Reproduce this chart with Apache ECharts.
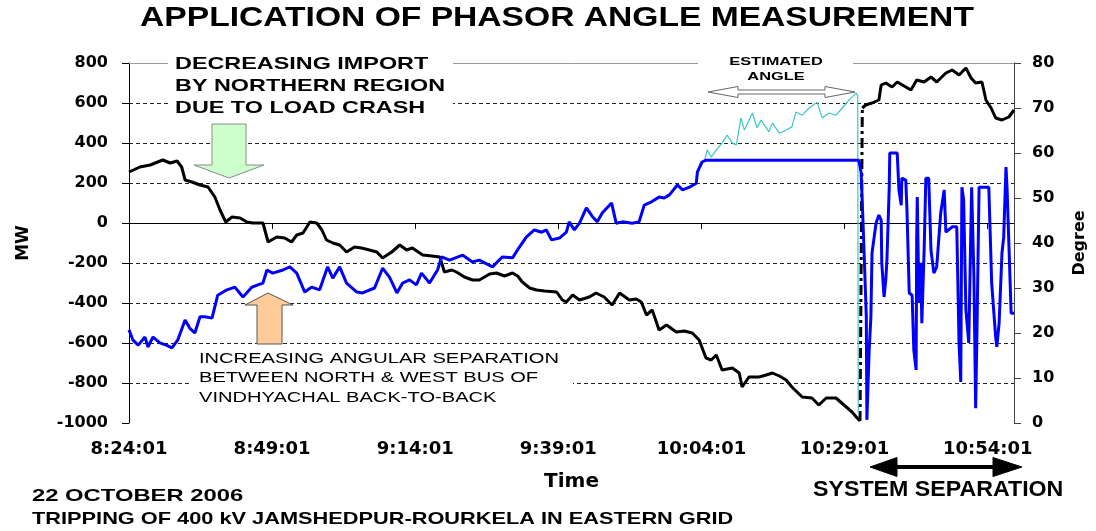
<!DOCTYPE html>
<html><head><meta charset="utf-8">
<script src="https://cdn.jsdelivr.net/npm/echarts@6/dist/echarts.min.js"></script>
<style>html,body{margin:0;padding:0;background:#fff}#c{width:1096px;height:531px}</style>
</head><body><div id="c"></div>
<script>
// x tick labels (clock time); data times are minutes after 8:24:01
const timeTicks = ['8:24:01','8:49:01','9:14:01','9:39:01','10:04:01','10:29:01','10:54:01'];

// Northern region import (MW) before system separation
const mwTime = [0.0,1.9,3.7,5.9,7.2,8.4,9.2,9.8,11.0,12.4,13.8,15.0,15.9,16.9,18.0,19.4,20.6,21.6,23.4,24.3,25.8,27.2,28.4,29.3,30.4,31.6,32.8,33.7,34.5,35.6,36.8,38.0,39.4,40.6,42.0,43.3,44.3,45.9,47.3,48.5,49.5,51.3,52.9,54.3,55.1,56.4,57.2,58.6,60.0,61.2,63.0,64.2,65.6,67.0,67.9,68.7,70.0,71.2,72.6,74.7,75.7,76.4,77.5,78.7,80.4,81.6,83.0,84.4,85.7,87.4,88.6,89.5,90.4,91.4,92.6,93.9,95.6,97.0,98.4,99.6,100.8,101.7,102.6,103.6,105.4,106.6,107.1,108.3,110.1,111.3,112.4,113.6,114.8,115.8,117.6,119.3,120.5,121.8,123.5,124.9,126.3,127.2,127.7];
const mwValue = [255,280,290,315,300,310,280,215,205,190,180,130,65,5,30,25,5,0,0,-95,-70,-75,-95,-60,-50,5,0,-35,-85,-100,-110,-145,-120,-125,-135,-145,-175,-145,-110,-135,-125,-160,-165,-170,-245,-235,-245,-270,-285,-285,-255,-250,-265,-250,-265,-295,-325,-335,-340,-345,-385,-395,-360,-385,-370,-350,-370,-410,-350,-385,-380,-395,-460,-435,-535,-510,-545,-540,-550,-585,-675,-685,-660,-735,-725,-750,-820,-770,-770,-760,-750,-765,-785,-820,-870,-875,-910,-875,-875,-910,-945,-975,-990];

// MW after system separation
const mwAfterTime = [128.1,128.7,129.8,131.0,131.4,132.2,133.3,134.2,135.7,136.6,137.6,138.9,140.1,141.1,142.7,143.8,145.0,146.2,147.1,147.9,149.0,149.7,150.6,151.4,152.5,153.7,154.6];
const mwAfterValue = [575,590,600,615,690,700,680,705,680,665,715,705,730,705,750,765,740,775,725,700,705,615,575,525,515,530,565];

// Angle between North & West bus of Vindhyachal (degree)
const angleTime = [0,0.7,1.6,2.8,3.3,4.2,5.4,6.5,7.5,8.5,9.8,10.6,11.5,12.4,13.3,14.5,15.5,17.1,18.5,19.9,21.5,22.5,23.4,24.1,25.1,26.9,28.1,29.3,30.7,31.9,33.3,34.7,35.6,36.8,38.0,39.8,40.8,42.9,44.3,45.5,46.8,47.8,49.0,50.2,51.1,52.5,53.9,54.6,56.0,58.3,60.0,61.2,63.5,65.2,67.0,68.2,69.4,70.8,72.1,72.9,73.8,75.2,76.4,76.9,77.8,78.7,79.9,81.0,81.8,82.7,84.3,85.1,86.2,87.9,89.1,90.0,91.2,92.6,93.5,94.4,95.8,96.7,97.9,99.1,99.3,100.1,100.8,127.5,127.9,128.1,128.4,128.8,128.9,129.3,129.6,129.8,130.5,131.0,131.4,131.5,131.9,132.2,132.4,132.8,132.9,134.2,134.5,134.9,135.0,135.7,135.9,136.3,136.8,137.1,137.5,137.6,137.7,138.0,138.3,138.5,138.9,139.2,139.7,140.1,140.6,141.1,141.8,142.4,142.7,143.8,144.6,145.0,145.3,145.5,145.8,146.2,146.7,147.2,147.6,147.9,148.1,148.5,150.2,150.7,151.4,151.6,152.0,152.5,152.8,153.2,153.4,153.7,154.1,154.6];
const angleValue = [20.7,18.4,17.3,19.1,16.9,19.1,17.8,17.3,16.7,18.4,22.9,21.1,20.0,23.6,23.6,23.3,28.4,29.6,30.2,28.0,30.2,30.7,31.1,34.0,33.3,34.0,34.7,33.3,29.1,30.2,29.6,34.7,32.2,34.7,31.1,29.1,28.9,30.0,34.4,32.4,28.9,31.1,31.8,30.7,33.3,31.1,34.0,36.9,36.2,37.3,35.8,36.2,34.7,36.9,36.7,39.1,41.3,42.9,42.4,42.9,40.7,41.1,42.4,44.7,42.9,44.4,47.8,45.8,44.7,46.7,48.9,44.4,44.7,44.4,44.7,48.4,49.1,50.2,50.0,50.7,52.9,51.8,52.4,53.3,55.8,58.0,58.4,58.4,55.6,48.9,38.4,23.6,0.7,16.2,23.6,37.8,44.4,46.2,45.1,35.6,28.0,31.8,36.2,52.2,60.0,60.0,51.8,48.4,54.4,54.0,47.3,28.9,28.4,16.2,11.8,40.7,50.2,26.7,35.6,22.2,38.4,54.4,54.4,38.4,33.3,34.7,46.7,51.8,42.4,43.6,43.6,17.8,9.1,52.4,49.6,25.1,17.8,52.4,32.4,3.3,17.8,52.4,52.4,31.1,19.1,16.9,22.2,37.8,41.3,56.9,51.8,40.0,24.4,24.4];

// Estimated angle (degree)
const estTime = [100.5,101.0,101.7,102.6,103.6,104.5,105.4,106.1,106.9,107.5,108.9,109.7,110.4,111.8,112.4,113.6,114.8,115.8,116.5,117.6,118.8,120.2,121.1,122.3,123.5,124.6,125.8,127.0,127.3,127.4];
const estValue = [58.0,60.7,59.1,60.7,62.2,64.0,62.2,61.8,67.8,65.1,68.9,65.6,67.3,64.7,66.7,64.4,65.1,65.8,69.1,68.4,70.0,71.3,67.8,68.9,68.4,70.0,71.8,73.3,72.7,2.0];

const zip = (a, b) => a.map((t, i) => [t, b[i]]);
const mwPre = zip(mwTime, mwValue);
const mwPost = zip(mwAfterTime, mwAfterValue);
const mwJump = [mwPre[mwPre.length - 1], mwPost[0]];

const AX = '"DejaVu Sans", Verdana, sans-serif';
const TX = '"Liberation Sans", Arial, sans-serif';

function txt(text, x, y, size, sx, weight, align) {
  return {
    type: 'text', x: x, y: y, scaleX: sx, z: 120, silent: true,
    style: {
      text: text, fill: '#000',
      font: (weight || 'bold') + ' ' + size + 'px ' + TX,
      textAlign: align || 'left', align: align || 'left',
      textVerticalAlign: 'middle', verticalAlign: 'middle'
    }
  };
}
function box(x, y, w, h) {
  return { type: 'rect', z: 110, silent: true, shape: { x: x, y: y, width: w, height: h }, style: { fill: '#fff' } };
}
function poly(points, fill, stroke) {
  return { type: 'polygon', z: 115, silent: true, shape: { points: points }, style: { fill: fill, stroke: stroke, lineWidth: 1 } };
}

const chart = echarts.init(document.getElementById('c'), null, { renderer: 'canvas' });
chart.setOption({
  animation: false,
  backgroundColor: '#fff',
  grid: { left: 129, right: 81, top: 63, bottom: 108, containLabel: false },
  xAxis: {
    type: 'value', min: 0, max: 154.6, interval: 25,
    axisLine: { lineStyle: { color: '#000', width: 1 } },
    axisTick: { show: true, length: 6, lineStyle: { color: '#000' } },
    axisLabel: {
      showMaxLabel: false, margin: 17,
      formatter: v => timeTicks[Math.round(v / 25)] || '',
      fontFamily: AX, fontWeight: 'bold', fontSize: 18, color: '#000'
    },
    splitLine: { show: false },
    name: 'Time', nameLocation: 'middle', nameGap: 49,
    nameTextStyle: { fontFamily: AX, fontWeight: 'bold', fontSize: 20, color: '#000' }
  },
  yAxis: [
    {
      type: 'value', min: -1000, max: 800, interval: 200, position: 'left',
      axisLine: { show: true, lineStyle: { color: '#000', width: 1 } },
      axisTick: { show: true, length: 7, lineStyle: { color: '#000' } },
      axisLabel: { margin: 21, formatter: v => String(v), fontFamily: AX, fontWeight: 'bold', fontSize: 16, color: '#000' },
      splitLine: { show: true, showMinLine: false, showMaxLine: false, lineStyle: { color: '#222', width: 1, type: [4, 3] } },
      name: 'MW', nameLocation: 'middle', nameRotate: 90, nameGap: 97,
      nameTextStyle: { fontFamily: AX, fontWeight: 'bold', fontSize: 17, color: '#000' }
    },
    {
      type: 'value', min: 0, max: 80, interval: 10, position: 'right',
      axisLine: { show: true, lineStyle: { color: '#444', width: 1 } },
      axisTick: { show: true, length: 7, lineStyle: { color: '#444' } },
      axisLabel: { margin: 18, formatter: v => String(v), fontFamily: AX, fontWeight: 'bold', fontSize: 16, color: '#000' },
      splitLine: { show: false },
      name: 'Degree', nameLocation: 'middle', nameRotate: 90, nameGap: 58,
      nameTextStyle: { fontFamily: AX, fontWeight: 'bold', fontSize: 16, color: '#000' }
    }
  ],
  series: [
    {
      name: 'MW', type: 'line', yAxisIndex: 0, data: mwPre, showSymbol: false, z: 3,
      lineStyle: { color: '#000', width: 3 }, itemStyle: { color: '#000' },
      markLine: {
        silent: true, symbol: 'none', label: { show: false }, animation: false,
        lineStyle: { color: '#9a9a9a', type: 'solid', width: 1 },
        data: [{ yAxis: 800 }]
      }
    },
    {
      name: 'MW jump', type: 'line', yAxisIndex: 0, data: mwJump, showSymbol: false, z: 3,
      lineStyle: { color: '#000', width: 3, type: [10, 4, 3, 4] }
    },
    {
      name: 'MW after', type: 'line', yAxisIndex: 0, data: mwPost, showSymbol: false, z: 3,
      lineStyle: { color: '#000', width: 3 }
    },
    {
      name: 'Estimated angle', type: 'line', yAxisIndex: 1, data: zip(estTime, estValue), showSymbol: false, z: 4,
      lineStyle: { color: '#3cc6c6', width: 1.2 }
    },
    {
      name: 'Angle', type: 'line', yAxisIndex: 1, data: zip(angleTime, angleValue), showSymbol: false, z: 5,
      lineStyle: { color: '#0000ff', width: 3 }
    }
  ],
  graphic: [
    txt('APPLICATION OF PHASOR ANGLE MEASUREMENT', 557, 18, 28, 1.2, 'bold', 'center'),

    box(168, 54, 285, 64),
    txt('DECREASING IMPORT', 175, 64, 17, 1.375),
    txt('BY NORTHERN REGION', 175, 86, 17, 1.375),
    txt('DUE TO LOAD CRASH', 175, 108, 17, 1.375),
    poly([[212,124],[246,124],[246,165],[264,165],[229,178],[194,165],[212,165]], '#ccffcc', '#8a8a8a'),

    box(192, 348, 381, 60),
    txt('INCREASING ANGULAR SEPARATION', 199, 358.5, 15, 1.34, 'normal'),
    txt('BETWEEN NORTH & WEST BUS OF', 199, 378, 15, 1.34, 'normal'),
    txt('VINDHYACHAL BACK-TO-BACK', 199, 397.5, 15, 1.34, 'normal'),
    poly([[257,344],[282,344],[282,305],[293,305],[268,293],[245,305],[257,305]], '#ffcc99', '#555'),

    box(698, 52, 155, 32),
    txt('ESTIMATED', 776, 62, 11, 1.49, 'bold', 'center'),
    txt('ANGLE', 776, 77, 11, 1.49, 'bold', 'center'),
    poly([[708,92],[738,86.5],[738,90],[825,90],[825,86.5],[855,92],[825,97.5],[825,94],[738,94],[738,97.5]], '#fff', '#666'),

    poly([[870,467],[897,457.5],[897,465.5],[993,465.5],[993,457.5],[1022,467],[993,476.5],[993,468.5],[897,468.5],[897,476.5]], '#000', '#000'),
    txt('SYSTEM SEPARATION', 813, 490, 22, 1.054),

    txt('22 OCTOBER 2006', 32, 496, 17, 1.40),
    txt('TRIPPING OF 400 kV JAMSHEDPUR-ROURKELA IN EASTERN GRID', 32, 519, 17, 1.28)
  ]
});
</script>
</body></html>
